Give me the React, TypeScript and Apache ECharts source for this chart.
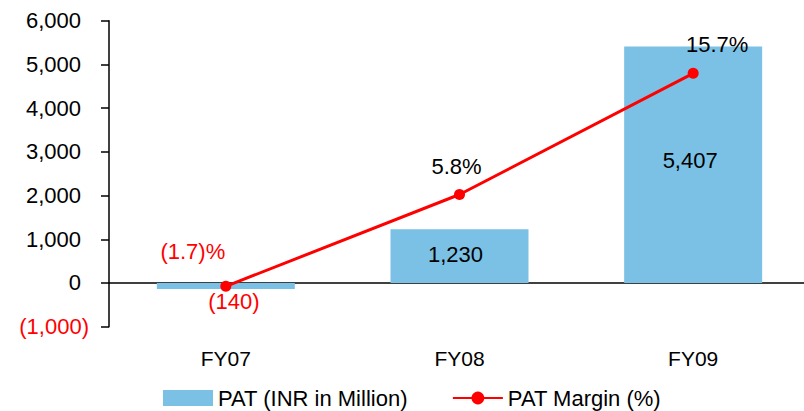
import React, { useEffect, useRef } from "react";
import * as echarts from "echarts";

const categories = ["FY07", "FY08", "FY09"];
const patValues = [-140, 1230, 5407];
const marginValues = [-1.7, 5.8, 15.7];
const yTicks = { min: -1000, max: 6000, interval: 1000 };

const fmtNum = (v: number) => {
  const s = Math.abs(v).toLocaleString("en-US");
  return v < 0 ? `(${s})` : s;
};

export default function App() {
  const ref = useRef<HTMLDivElement>(null);
  useEffect(() => {
    if (!ref.current) return;
    const chart = echarts.init(ref.current, null, { renderer: "svg" });
    const font = "'Liberation Sans', Arial, sans-serif";
    const fs = 22;
    const barOffsets: number[][] = [[8, 0], [-4, -2], [-3, -4]];
    const lineOffsets: number[][] = [[-33, -4], [-3, 2], [24, 2]];
    chart.setOption({
      animation: false,
      textStyle: { fontFamily: font },
      grid: { left: 109, right: 3, top: 20.7, bottom: 84.3, containLabel: false },
      legend: {
        left: 163,
        top: 387,
        padding: 0,
        itemWidth: 50,
        itemHeight: 16,
        itemGap: 44,
        textStyle: { fontSize: fs, color: "#000", fontFamily: font },
        data: [
          { name: "PAT (INR in Million)", icon: "rect" },
          { name: "PAT Margin (%)" },
        ],
      },
      xAxis: [
        {
          type: "category",
          data: categories,
          axisLine: { onZero: true, lineStyle: { color: "#000", width: 1.5 } },
          axisTick: { show: false },
          axisLabel: { show: false },
        },
        {
          type: "category",
          data: categories,
          position: "bottom",
          axisLine: { show: false, onZero: false },
          axisTick: { show: false },
          axisLabel: { color: "#000", fontSize: 21, margin: 21, fontFamily: font },
        },
      ],
      yAxis: [
        {
          type: "value",
          min: yTicks.min,
          max: yTicks.max,
          interval: yTicks.interval,
          splitLine: { show: false },
          axisLine: { show: true, lineStyle: { color: "#000", width: 1.5 } },
          axisTick: { show: true, length: 8, lineStyle: { color: "#000", width: 1.5 } },
          axisLabel: {
            fontSize: fs,
            color: "#000",
            margin: 20,
            fontFamily: font,
            formatter: (v: number) => (v < 0 ? `{neg|${fmtNum(v)}}` : `{pos|${fmtNum(v)}}`),
            rich: {
              neg: { color: "#ff0000", fontSize: fs, fontFamily: font },
              pos: { color: "#000", fontSize: fs, fontFamily: font, padding: [0, 8, 0, 0] },
            },
          },
        },
        {
          type: "value",
          min: -5,
          max: 20,
          show: false,
          splitLine: { show: false },
        },
      ],
      series: [
        {
          name: "PAT (INR in Million)",
          type: "bar",
          xAxisIndex: 0,
          yAxisIndex: 0,
          barWidth: 138,
          itemStyle: { color: "#7AC1E5" },
          data: patValues.map((v, i) => ({
            value: v,
            label: {
              show: true,
              position: v < 0 ? "bottom" : "inside",
              distance: 1,
              offset: barOffsets[i],
              color: v < 0 ? "#ff0000" : "#000",
              fontSize: fs,
              fontFamily: font,
              formatter: () => fmtNum(v),
            },
          })),
        },
        {
          name: "PAT Margin (%)",
          type: "line",
          xAxisIndex: 0,
          yAxisIndex: 1,
          symbol: "circle",
          symbolSize: 11,
          z: 5,
          lineStyle: { color: "#ff0000", width: 3 },
          itemStyle: { color: "#ff0000" },
          data: marginValues.map((v, i) => ({
            value: v,
            label: {
              show: true,
              position: "top",
              distance: 14,
              offset: lineOffsets[i],
              color: v < 0 ? "#ff0000" : "#000",
              fontSize: fs,
              fontFamily: font,
              formatter: () => (v < 0 ? `(${Math.abs(v).toFixed(1)})%` : `${v.toFixed(1)}%`),
            },
          })),
        },
      ],
    });
    return () => chart.dispose();
  }, []);
  return (
    <div style={{ width: 804, height: 411, position: "absolute", left: 0, top: 0, overflow: "hidden" }}>
      <div ref={ref} style={{ width: 813, height: 411 }} />
    </div>
  );
}
